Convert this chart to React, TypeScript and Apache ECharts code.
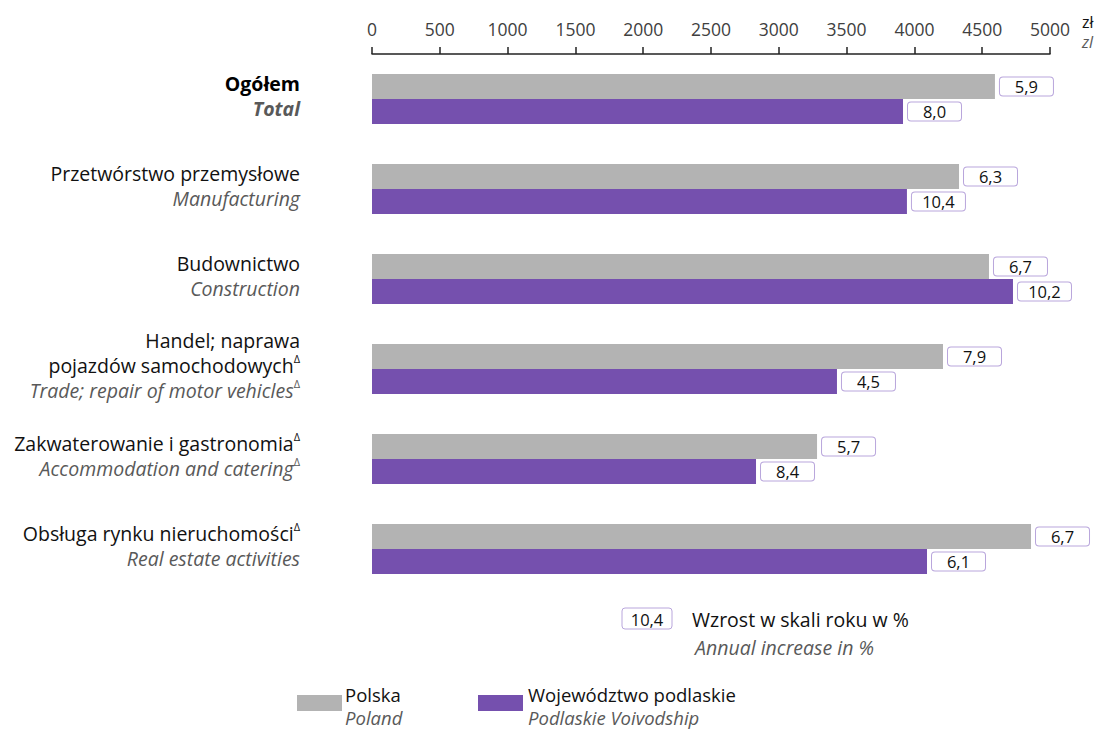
import React, { useEffect, useRef } from "react";
import * as echarts from "echarts";

const categoriesPl: string[][] = [
  ["Ogółem"],
  ["Przetwórstwo przemysłowe"],
  ["Budownictwo"],
  ["Handel; naprawa", "pojazdów samochodowych"],
  ["Zakwaterowanie i gastronomia"],
  ["Obsługa rynku nieruchomości"],
];
const categoriesEn: string[] = [
  "Total",
  "Manufacturing",
  "Construction",
  "Trade; repair of motor vehicles",
  "Accommodation and catering",
  "Real estate activities",
];
const plDelta = [false, false, false, true, true, true];
const enDelta = [false, false, false, true, true, false];

const wagesPoland = [4594, 4329, 4550, 4211, 3282, 4860];
const wagesPodlaskie = [3916, 3945, 4727, 3429, 2832, 4093];
const incPoland = [5.9, 6.3, 6.7, 7.9, 5.7, 6.7];
const incPodlaskie = [8.0, 10.4, 10.2, 4.5, 8.4, 6.1];

const xTicks = [0, 500, 1000, 1500, 2000, 2500, 3000, 3500, 4000, 4500, 5000];

const FONT = "'Open Sans', sans-serif";
const GRAY = "#b3b3b3";
const PURPLE = "#7550ae";
const BOX = "#b9a6dc";
const EN_COLOR = "#595959";
const FS = 19.5;
const LFS = 18.5;

const fmt = (v: number) => v.toFixed(1).replace(".", ",");

export default function App() {
  const ref = useRef<HTMLDivElement>(null);
  useEffect(() => {
    if (!ref.current) return;
    const chart = echarts.init(ref.current, undefined, { renderer: "svg" });
    const labelFor = (arr: number[]) => ({
      show: true,
      position: "right" as const,
      distance: 5,
      backgroundColor: "#fff",
      borderColor: BOX,
      borderWidth: 1,
      borderRadius: 3,
      padding: [0, 0, 0, 0],
      formatter: (p: any) => `{v|${fmt(arr[p.dataIndex])}}`,
      rich: {
        v: {
          width: 53,
          height: 18,
          lineHeight: 18,
          align: "center",
          fontSize: 16.5,
          fontFamily: FONT,
          color: "#111",
        },
      },
    });
    const catLabels = categoriesPl.map((_, i) => String(i));
    chart.setOption({
      animation: false,
      grid: { left: 372, right: 48, top: 54, height: 540, containLabel: false },
      xAxis: {
        type: "value",
        position: "top",
        min: 0,
        max: 5000,
        interval: 500,
        splitLine: { show: false },
        axisLine: { show: true, lineStyle: { color: "#222", width: 1.5 } },
        axisTick: { show: true, length: 7, lineStyle: { color: "#222", width: 1.5 } },
        axisLabel: {
          margin: 16,
          fontSize: 17.5,
          fontFamily: FONT,
          color: "#404040",
          formatter: (v: number) => (xTicks.includes(v) ? String(v) : ""),
        },
      },
      yAxis: {
        type: "category",
        inverse: true,
        data: catLabels,
        axisLine: { show: false },
        axisTick: { show: false },
        axisLabel: {
          margin: 72,
          align: "right",
          padding: [0, 0, 7, 0],
          formatter: (v: string) => {
            const i = Number(v);
            const bold = i === 0;
            const plStyle = bold ? "plb" : "pl";
            const enStyle = bold ? "enb" : "en";
            const lines = categoriesPl[i].map((t, k, a) =>
              `{${plStyle}|${t}}` + (k === a.length - 1 && plDelta[i] ? "{sup|Δ}" : "")
            );
            lines.push(`{${enStyle}|${categoriesEn[i]}}` + (enDelta[i] ? "{supe|Δ}" : ""));
            return lines.join("\n");
          },
          rich: {
            pl: { fontSize: FS, fontFamily: FONT, color: "#111", lineHeight: 25 },
            plb: { fontSize: FS, fontFamily: FONT, color: "#000", fontWeight: "bold", lineHeight: 25 },
            en: { fontSize: FS, fontFamily: FONT, color: EN_COLOR, fontStyle: "italic", lineHeight: 25 },
            enb: { fontSize: FS, fontFamily: FONT, color: EN_COLOR, fontStyle: "italic", fontWeight: "bold", lineHeight: 25 },
            sup: { fontSize: 11, fontFamily: FONT, color: "#111", verticalAlign: "top", lineHeight: 20 },
            supe: { fontSize: 11, fontFamily: FONT, color: EN_COLOR, verticalAlign: "top", lineHeight: 20 },
          },
        },
      },
      series: [
        {
          name: "Polska",
          type: "bar",
          data: wagesPoland,
          barWidth: 25,
          barGap: "0%",
          itemStyle: { color: GRAY },
          label: labelFor(incPoland),
        },
        {
          name: "Województwo podlaskie",
          type: "bar",
          data: wagesPodlaskie,
          barWidth: 25,
          barGap: "0%",
          itemStyle: { color: PURPLE },
          label: labelFor(incPodlaskie),
        },
      ],
      graphic: [
        { type: "text", x: 1082, y: 22, style: { text: "zł", fontSize: 16, fontFamily: FONT, fill: "#111", verticalAlign: "middle" } },
        { type: "text", x: 1082, y: 42, style: { text: "zl", fontSize: 16, fontFamily: FONT, fill: EN_COLOR, fontStyle: "italic", verticalAlign: "middle" } },
        {
          type: "rect",
          shape: { x: 622, y: 608, width: 50, height: 21, r: 3 },
          style: { fill: "#fff", stroke: BOX, lineWidth: 1 },
        },
        { type: "text", x: 647, y: 619, style: { text: "10,4", fontSize: 16.5, fontFamily: FONT, fill: "#111", align: "center", verticalAlign: "middle" } },
        { type: "text", x: 692, y: 619, style: { text: "Wzrost w skali roku w %", fontSize: FS, fontFamily: FONT, fill: "#111", verticalAlign: "middle" } },
        { type: "text", x: 695, y: 647, style: { text: "Annual increase in %", fontSize: FS, fontFamily: FONT, fill: EN_COLOR, fontStyle: "italic", verticalAlign: "middle" } },
        { type: "rect", shape: { x: 297, y: 695, width: 45, height: 16 }, style: { fill: GRAY } },
        { type: "text", x: 345, y: 694, style: { text: "Polska", fontSize: LFS, fontFamily: FONT, fill: "#111", verticalAlign: "middle" } },
        { type: "text", x: 345, y: 717, style: { text: "Poland", fontSize: LFS, fontFamily: FONT, fill: EN_COLOR, fontStyle: "italic", verticalAlign: "middle" } },
        { type: "rect", shape: { x: 478, y: 695, width: 45, height: 16 }, style: { fill: PURPLE } },
        { type: "text", x: 528, y: 694, style: { text: "Województwo podlaskie", fontSize: LFS, fontFamily: FONT, fill: "#111", verticalAlign: "middle" } },
        { type: "text", x: 528, y: 717, style: { text: "Podlaskie Voivodship", fontSize: LFS, fontFamily: FONT, fill: EN_COLOR, fontStyle: "italic", verticalAlign: "middle" } },
      ],
    });
    return () => chart.dispose();
  }, []);
  return (
    <div
      ref={ref}
      style={{ position: "fixed", left: 0, top: 0, width: 1098, height: 729, background: "#fff" }}
    />
  );
}
